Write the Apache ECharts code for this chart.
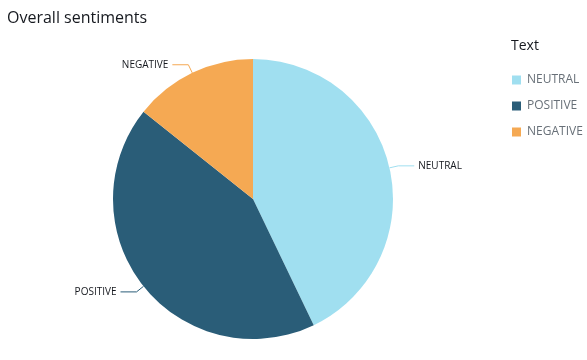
<!DOCTYPE html>
<html><head><meta charset="utf-8">
<script src="https://cdn.jsdelivr.net/npm/echarts@6/dist/echarts.min.js"></script>
<style>html,body{margin:0;padding:0;background:#fff;}#c{width:587px;height:360px;}</style>
</head><body><div id="c"></div>
<script>
var categories = ["NEUTRAL", "POSITIVE", "NEGATIVE"];
var values = [3, 3, 1];
var colors = ["#a0dff0", "#2a5d78", "#f5a953"];

var chart = echarts.init(document.getElementById('c'), null, {renderer: 'canvas'});
chart.setOption({
  animation: false,
  title: [{
    text: 'Overall sentiments', left: 2, top: 5,
    textStyle: {fontFamily: 'Open Sans', fontSize: 16, fontWeight: 'normal', color: '#16191f'}
  }, {
    text: 'Text', left: 506, top: 34,
    textStyle: {fontFamily: 'Open Sans', fontSize: 14, fontWeight: 'normal', color: '#16191f'}
  }],
  legend: {
    orient: 'vertical', left: 507, top: 69,
    itemWidth: 9, itemHeight: 9, itemGap: 14,
    icon: 'rect',
    data: categories,
    textStyle: {fontFamily: 'Open Sans', fontSize: 12, color: '#687078', padding: [0,0,0,1]}
  },
  series: [{
    type: 'pie',
    center: [253, 199],
    radius: [0, 140],
    startAngle: 90,
    clockwise: true,
    avoidLabelOverlap: false,
    label: {show: true, fontFamily: 'Open Sans', fontSize: 10, color: '#16191f', distanceToLabelLine: 4},
    labelLine: {show: true, length: 9, length2: 16, smooth: false, lineStyle: {width: 1}},
    emphasis: {disabled: true},
    itemStyle: {borderWidth: 0},
    data: categories.map(function (c, i) {
      return {name: c, value: values[i], itemStyle: {color: colors[i]}};
    })
  }]
});
</script>
</body></html>
